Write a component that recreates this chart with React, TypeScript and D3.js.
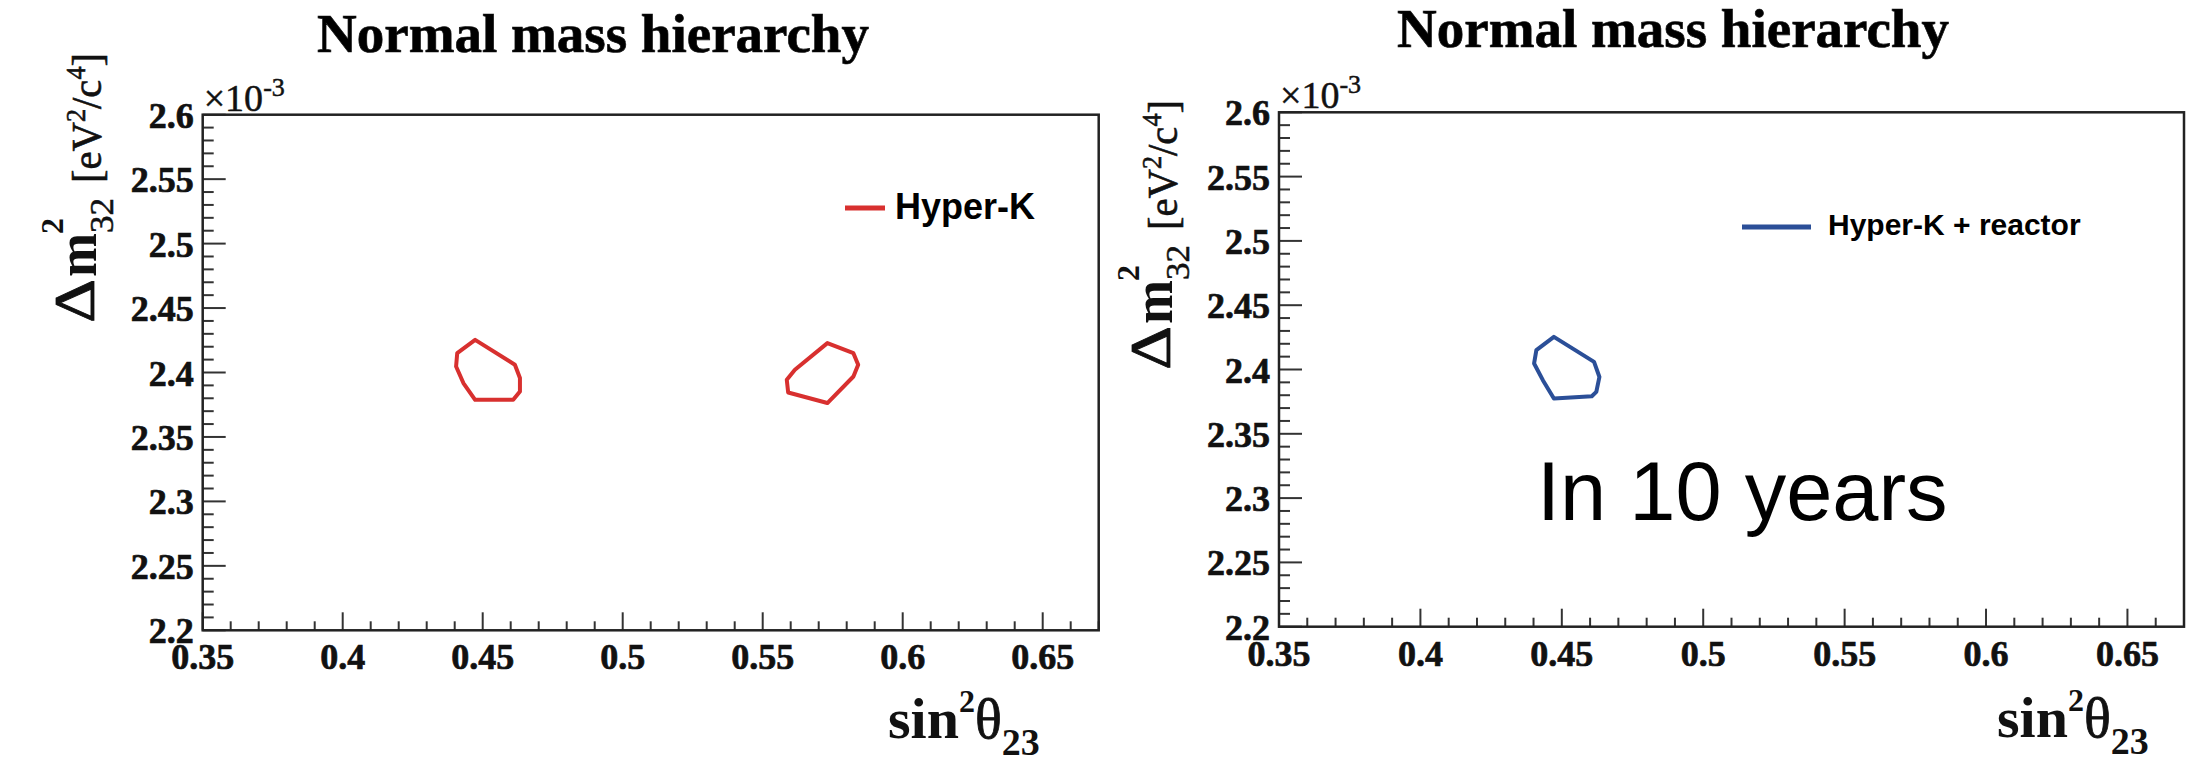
import React from "react";
import * as d3 from "d3";

// ---- data ----
const xTickValues = [0.35, 0.4, 0.45, 0.5, 0.55, 0.6, 0.65];
const xTickLabels = ["0.35", "0.4", "0.45", "0.5", "0.55", "0.6", "0.65"];
const yTickValues = [2.2, 2.25, 2.3, 2.35, 2.4, 2.45, 2.5, 2.55, 2.6];
const yTickLabels = ["2.2", "2.25", "2.3", "2.35", "2.4", "2.45", "2.5", "2.55", "2.6"];
const xDomain = [0.35, 0.67];
const yDomain = [2.2, 2.6];

// Hyper-K alone: contours in the lower and upper octant (x: sin^2 theta23, y: dm2_32 x 1e-3)
const hyperKLower: [number, number][] = [
  [0.4473, 2.4253], [0.4615, 2.406], [0.4633, 2.3957], [0.4633, 2.3853], [0.4609, 2.3788],
  [0.4473, 2.3788], [0.4431, 2.3918], [0.4405, 2.4047], [0.4409, 2.415],
];
const hyperKUpper: [number, number][] = [
  [0.5731, 2.4228], [0.5824, 2.415], [0.5841, 2.406], [0.5824, 2.3969], [0.5731, 2.3763],
  [0.5591, 2.3845], [0.5586, 2.3943], [0.5615, 2.4021],
];
// Hyper-K + reactor: only the lower octant survives
const hyperKReactor: [number, number][] = [
  [0.4472, 2.4254], [0.4614, 2.4059], [0.4633, 2.3942], [0.4622, 2.3826], [0.4606, 2.3792],
  [0.4472, 2.3774], [0.4433, 2.3917], [0.4402, 2.4047], [0.441, 2.415],
];

const RED = "#d8302f";
const BLUE = "#2b4f98";
const SERIF = "'Liberation Serif', 'Times New Roman', serif";
const SANS = "'Liberation Sans', Arial, Helvetica, sans-serif";

type PanelProps = {
  left: number; right: number; top: number; bottom: number;
  contours: [number, number][][];
  color: string;
  legendLabel: string;
  legendLine: [number, number, number];
  legendText: [number, number, number];
  title: [number, number];
  xTitle: [number, number];
  yTitleBottom: number;
  extraText?: boolean;
};

function Panel(p: PanelProps) {
  const x = d3.scaleLinear().domain(xDomain).range([p.left, p.right]);
  const y = d3.scaleLinear().domain(yDomain).range([p.bottom, p.top]);
  const line = d3
    .line<[number, number]>()
    .x((d) => x(d[0]))
    .y((d) => y(d[1]))
    .curve(d3.curveLinearClosed);
  const xMinor = d3.range(0, 33).map((i) => xDomain[0] + i * 0.01).filter((v) => v <= xDomain[1] + 1e-9);
  const yMinor = d3.range(0, 41).map((i) => yDomain[0] + i * 0.01);
  const isMajorX = (v: number) => xTickValues.some((t) => Math.abs(t - v) < 1e-6);
  const isMajorY = (v: number) => yTickValues.some((t) => Math.abs(t - v) < 1e-6);

  const lblX = p.left - 107; // baseline of rotated y title
  const db = p.yTitleBottom; // lower end of the Delta
  const heavy = { stroke: "#111", strokeWidth: 0.7 };
  return (
    <g>
      {/* title */}
      <text x={p.title[0]} y={p.title[1]} fontFamily={SERIF} fontWeight="bold" fontSize={55} fill="#000" {...heavy}>
        Normal mass hierarchy
      </text>

      {/* minor + major ticks */}
      {xMinor.map((v, i) => (
        <line key={"xm" + i} x1={x(v)} x2={x(v)} y1={p.bottom} y2={p.bottom - (isMajorX(v) ? 18 : 9)} stroke="#333" strokeWidth={2} />
      ))}
      {yMinor.map((v, i) => (
        <line key={"ym" + i} x1={p.left} x2={p.left + (isMajorY(v) ? 23 : 11)} y1={y(v)} y2={y(v)} stroke="#333" strokeWidth={2} />
      ))}

      {/* frame */}
      <rect x={p.left} y={p.top} width={p.right - p.left} height={p.bottom - p.top} fill="none" stroke="#222" strokeWidth={2.5} />

      {/* tick labels */}
      {xTickValues.map((v, i) => (
        <text key={"xl" + i} x={x(v)} y={p.bottom + 39} textAnchor="middle" fontFamily={SERIF} fontWeight="bold" fontSize={36} fill="#111" {...heavy}>
          {xTickLabels[i]}
        </text>
      ))}
      {yTickValues.map((v, i) => (
        <text key={"yl" + i} x={p.left - 9} y={y(v) + 13} textAnchor="end" fontFamily={SERIF} fontWeight="bold" fontSize={36} fill="#111" {...heavy}>
          {yTickLabels[i]}
        </text>
      ))}

      {/* exponent */}
      <text x={p.left + 1} y={p.top - 4} fontFamily={SERIF} fontSize={38} fill="#111" stroke="#111" strokeWidth={0.5}>
        ×10<tspan fontSize={26} dy={-15}>-3</tspan>
      </text>

      {/* y axis title (rotated) */}
      <text transform={`translate(${lblX - 2},${db}) rotate(-90)`} fontFamily={SERIF} fontSize={58} fill="#111" stroke="#111" strokeWidth={0.8} textLength={44} lengthAdjust="spacingAndGlyphs">
        Δ
      </text>
      <text transform={`translate(${lblX},${db - 46}) rotate(-90)`} fontFamily={SERIF} fontWeight="bold" fontSize={56} fill="#111" textLength={44} lengthAdjust="spacingAndGlyphs">
        m
      </text>
      <text transform={`translate(${lblX - 33},${db - 89}) rotate(-90)`} fontFamily={SERIF} fontWeight="bold" fontSize={32} fill="#111">
        2
      </text>
      <text transform={`translate(${lblX + 17},${db - 90}) rotate(-90)`} fontFamily={SERIF} fontSize={33} fill="#111" stroke="#111" strokeWidth={0.5} textLength={35} lengthAdjust="spacingAndGlyphs">
        32
      </text>
      <text transform={`translate(${lblX + 5},${db - 140}) rotate(-90)`} fontFamily={SERIF} fontSize={42} fill="#111" stroke="#111" strokeWidth={0.6} textLength={130} lengthAdjust="spacingAndGlyphs">
        [eV<tspan fontSize={27} dy={-16}>2</tspan><tspan dy={16}>/c</tspan><tspan fontSize={27} dy={-16}>4</tspan><tspan dy={16}>]</tspan>
      </text>

      {/* x axis title */}
      <text x={p.xTitle[0]} y={p.xTitle[1]} fontFamily={SERIF} fill="#111">
        <tspan fontWeight="bold" fontSize={58}>sin</tspan>
        <tspan fontWeight="bold" fontSize={32} dy={-26}>2</tspan>
        <tspan fontSize={56} dy={26} stroke="#111" strokeWidth={0.8}>θ</tspan>
        <tspan fontWeight="bold" fontSize={38} dy={17}>23</tspan>
      </text>

      {/* contours */}
      {p.contours.map((c, i) => (
        <path key={"c" + i} d={line(c) || ""} fill="none" stroke={p.color} strokeWidth={4} strokeLinejoin="round" />
      ))}

      {/* legend */}
      <line x1={p.legendLine[0]} x2={p.legendLine[1]} y1={p.legendLine[2]} y2={p.legendLine[2]} stroke={p.color} strokeWidth={5} />
      <text x={p.legendText[0]} y={p.legendText[1]} fontFamily={SANS} fontWeight="bold" fontSize={p.legendText[2]} fill="#000">
        {p.legendLabel}
      </text>

      {p.extraText && (
        <text x={1537} y={520} fontFamily={SANS} fontSize={83} fill="#000">
          In 10 years
        </text>
      )}
    </g>
  );
}

export default function App() {
  return (
    <svg width={2188} height={762} style={{ position: "absolute", left: 0, top: 0, background: "#fff" }}>
      <rect x={0} y={0} width={2188} height={762} fill="#fff" />
      <Panel
        left={202.7} right={1098.7} top={114.7} bottom={630.3}
        contours={[hyperKLower, hyperKUpper]}
        color={RED}
        legendLabel="Hyper-K"
        legendLine={[845, 885, 208]}
        legendText={[895, 219, 36]}
        title={[317, 52]}
        xTitle={[888, 738]}
        yTitleBottom={323}
      />
      <Panel
        left={1279} right={2184} top={112.3} bottom={626.7}
        contours={[hyperKReactor]}
        color={BLUE}
        legendLabel="Hyper-K + reactor"
        legendLine={[1742, 1811, 227]}
        legendText={[1828, 235, 30]}
        title={[1397, 47]}
        xTitle={[1997, 737]}
        yTitleBottom={370}
        extraText
      />
    </svg>
  );
}
